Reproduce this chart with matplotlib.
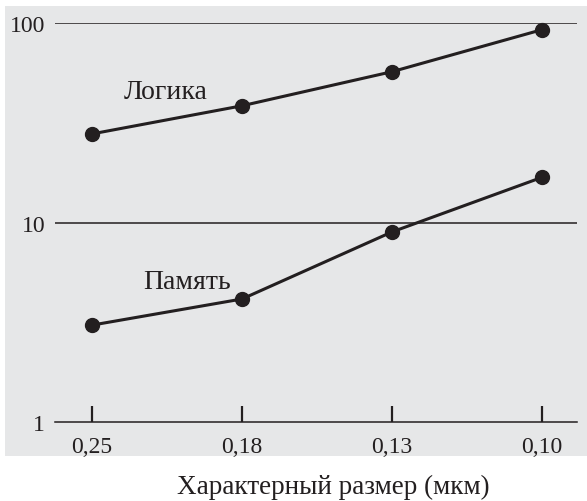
import numpy as np
import matplotlib
matplotlib.use('Agg')
import matplotlib.pyplot as plt
from matplotlib.patches import Rectangle

plt.rcParams['font.family'] = ['Liberation Serif', 'DejaVu Serif']

# data
sizes = ['0,25', '0,18', '0,13', '0,10']
logic = [27.9, 38.6, 57.2, 92.9]
memory = [3.07, 4.15, 9.0, 16.9]
y_ticks = [1, 10, 100]
y_labels = ['1', '10', '100']

ink = '#231f20'

W, H = 587, 502
fig = plt.figure(figsize=(W / 100, H / 100), dpi=100)
fig.patch.set_facecolor('white')

# grey panel behind everything
fig.patches.append(Rectangle((5 / W, (H - 457) / H), (W - 5) / W, 450 / H,
                             transform=fig.transFigure, facecolor='#e6e7e8',
                             edgecolor='none', zorder=-5))

ax = fig.add_axes([55 / W, (H - 423.3) / H, 522 / W, 399 / H])
ax.set_facecolor('none')
ax.set_zorder(1)

x = np.arange(len(sizes))
ax.set_yscale('log')
ax.set_ylim(1, 100)
ax.set_xlim(-37 / 150, 485 / 150)

for v in y_ticks[1:]:
    ax.axhline(v, color=ink, lw=1.1, zorder=1)

for vals in (logic, memory):
    ax.plot(x, vals, color=ink, lw=2.2, marker='o', markersize=10,
            markerfacecolor=ink, markeredgecolor=ink, zorder=3, clip_on=False)

for s in ['top', 'right', 'left']:
    ax.spines[s].set_visible(False)
ax.spines['bottom'].set_color(ink)
ax.spines['bottom'].set_linewidth(1.1)

ax.set_xticks(x)
ax.set_xticklabels(sizes, fontsize=17, color=ink)
ax.tick_params(axis='x', direction='in', length=11.5, width=1.6, color=ink, pad=10)

ax.set_yticks(y_ticks)
ax.set_yticklabels(y_labels, fontsize=17, color=ink)
ax.yaxis.set_minor_locator(matplotlib.ticker.NullLocator())
ax.tick_params(axis='y', length=0, pad=7)

ax.annotate('Логика', xy=(166, H - 93), xycoords='figure pixels',
            ha='center', va='center', fontsize=20, color=ink)
ax.annotate('Память', xy=(187, H - 283), xycoords='figure pixels',
            ha='center', va='center', fontsize=20, color=ink)

fig.text(333 / W, 1 - 487 / H, 'Характерный размер (мкм)', ha='center',
         va='center', fontsize=19.5, color=ink)

fig.savefig('out.png', dpi=100, facecolor='white')
